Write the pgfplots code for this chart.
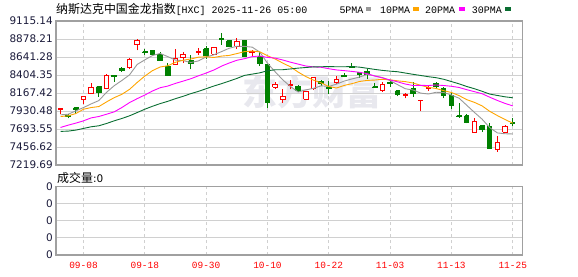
\documentclass[border=0pt]{standalone}
\usepackage{fontspec}
\setmainfont{DejaVu Sans}
\newfontfamily\cjk{Noto Sans CJK SC}
\newfontfamily\mono{Liberation Mono}
\usepackage{pgfplots}
\usepackage{pgfplotstable}
\pgfplotsset{compat=1.18}

\definecolor{ma5}{HTML}{999999}
\definecolor{ma10}{HTML}{FFA500}
\definecolor{ma20}{HTML}{FF00FF}
\definecolor{ma30}{HTML}{0A6E32}
\definecolor{upc}{HTML}{FF0000}
\definecolor{downc}{HTML}{008000}
\definecolor{gridc}{HTML}{D0D0D0}
\definecolor{framec}{HTML}{A0A0A0}
\definecolor{lab}{HTML}{1A1A3A}
\definecolor{wm}{HTML}{E8E8EE}

\pgfplotstableread{
i O H L C
0 7949 7976 7897 7958
1 7875 7897 7832 7858
2 7971 7971 7897 7954
3 8085 8119 8019 8119
4 8159 8294 8159 8237
5 8250 8250 8115 8172
6 8224 8412 8215 8399
7 8399 8403 8316 8390
8 8490 8508 8447 8464
9 8499 8630 8486 8608
10 8800 8878 8730 8856
11 8708 8747 8673 8699
12 8726 8726 8678 8678
13 8678 8708 8590 8599
14 8521 8564 8390 8399
15 8538 8747 8538 8625
16 8630 8708 8560 8669
17 8595 8669 8477 8551
18 8699 8756 8665 8708
19 8747 8791 8617 8660
20 8678 8774 8678 8765
21 8883 8957 8804 8874
22 8856 8856 8774 8774
23 8782 8891 8752 8839
24 8861 8870 8643 8651
25 8699 8739 8660 8713
26 8643 8708 8521 8551
27 8542 8542 7976 8041
28 8246 8316 8224 8276
29 8076 8215 8041 8119
30 8272 8338 8215 8281
31 8255 8268 8181 8194
32 8085 8181 8072 8181
33 8228 8368 8207 8368
34 8324 8333 8259 8290
35 8242 8320 8150 8233
36 8303 8390 8281 8346
37 8399 8433 8377 8381
38 8516 8564 8508 8508
39 8433 8442 8368 8412
40 8455 8486 8355 8412
41 8250 8303 8237 8242
42 8202 8311 8181 8276
43 8307 8320 8246 8298
44 8194 8194 8124 8146
45 8141 8172 8098 8150
46 8224 8311 8115 8163
47 8067 8072 7932 8072
48 8224 8268 8194 8246
49 8294 8311 8215 8259
50 8228 8246 8098 8128
51 8128 8163 7954 7997
52 7871 8032 7840 7862
53 7866 7888 7766 7779
54 7648 7836 7648 7788
55 7736 7736 7657 7683
56 7727 7771 7439 7439
57 7430 7605 7396 7518
58 7648 7744 7648 7727
59 7775 7832 7727 7766
}\candles

\pgfplotstableread{
i m5 m10 m20 m30
0 7880 7858 7714 7662
1 7888 7867 7744 7666
2 7932 7897 7771 7679
3 7976 7954 7801 7701
4 8024 7976 7840 7723
5 8068 7989 7858 7736
6 8176 8050 7888 7766
7 8263 8106 7919 7801
8 8332 8150 7976 7832
9 8406 8215 8041 7867
10 8543 8306 8093 7910
11 8604 8390 8141 7954
12 8661 8462 8194 7993
13 8688 8510 8237 8028
14 8646 8526 8259 8058
15 8600 8572 8294 8093
16 8594 8599 8324 8124
17 8569 8615 8355 8159
18 8590 8639 8394 8189
19 8642 8644 8430 8224
20 8670 8635 8470 8259
21 8712 8653 8521 8290
22 8756 8662 8562 8324
23 8783 8686 8598 8359
24 8781 8712 8619 8399
25 8771 8720 8646 8416
26 8706 8709 8654 8433
27 8559 8658 8636 8460
28 8447 8615 8627 8473
29 8340 8561 8602 8474
30 8253 8512 8573 8484
31 8181 8443 8548 8495
32 8209 8384 8523 8503
33 8228 8337 8511 8511
34 8262 8301 8506 8513
35 8254 8253 8487 8515
36 8284 8233 8471 8513
37 8324 8267 8462 8513
38 8352 8290 8452 8515
39 8377 8319 8440 8508
40 8412 8333 8422 8493
41 8392 8338 8391 8478
42 8371 8348 8366 8465
43 8330 8341 8339 8455
44 8276 8327 8314 8447
45 8223 8317 8285 8430
46 8207 8299 8266 8413
47 8166 8268 8268 8398
48 8154 8242 8266 8382
49 8177 8227 8273 8369
50 8174 8198 8266 8348
51 8140 8174 8256 8318
52 8099 8133 8240 8288
53 8006 8080 8211 8253
54 7912 8044 8185 8224
55 7823 7998 8158 8190
56 7711 7926 8112 8153
57 7642 7870 8069 8135
58 7631 7819 8030 8117
59 7628 7770 7998 8105
}\mas

\pgfplotsset{
  kstyle/.style={
    scale only axis,
    anchor=south west,
    width=466.7bp,
    xmin=-0.59, xmax=60.3,
    xtick={3,11,19,27,35,43,51,59},
    major tick length=0pt,
    axis line style={draw=framec, line width=1.2bp},
    xmajorgrids, ymajorgrids,
    x grid style={draw=gridc, dash pattern=on 3bp off 3bp, line width=0.9bp},
    y grid style={draw=gridc, line width=0.9bp},
    yticklabel style={font=\fontsize{10.5}{12}\selectfont, text=lab, inner sep=0pt, anchor=east, xshift=-3bp},
  }
}

\begin{document}
\begin{tikzpicture}[x=1bp,y=1bp]
\useasboundingbox (0,0) rectangle (578,276);
% watermark
\node[text=wm, inner sep=0, font=\cjk\bfseries\fontsize{35}{35}\selectfont] at (312,184) {东方财富};
% title
\node[anchor=base west, inner sep=0] at (56,263) {\cjk\fontsize{12}{12}\selectfont 纳斯达克中国金龙指数\mono\fontsize{10}{10}\selectfont[HXC] 2025-11-26 05:00};
% legend
\node[anchor=base west, inner sep=0, font=\mono\fontsize{10}{10}\selectfont] at (339.3,263) {5PMA};
\fill[ma5] (366,265.3) rectangle (371.3,268.7);
\node[anchor=base west, inner sep=0, font=\mono\fontsize{10}{10}\selectfont] at (380,263) {10PMA};
\fill[ma10] (413.3,265.3) rectangle (418.7,268.7);
\node[anchor=base west, inner sep=0, font=\mono\fontsize{10}{10}\selectfont] at (425,263) {20PMA};
\fill[ma20] (459.3,265.3) rectangle (465,268.7);
\node[anchor=base west, inner sep=0, font=\mono\fontsize{10}{10}\selectfont] at (471.7,263) {30PMA};
\fill[ma30] (505,265.3) rectangle (510.7,268.7);
% volume caption
\node[anchor=base west, inner sep=0] at (57,94) {\cjk\fontsize{12}{12}\selectfont 成交量\normalfont\fontsize{10.5}{12}\selectfont:0};

\begin{axis}[kstyle,
  at={(56bp,111bp)}, height=144bp,
  ymin=7219.69, ymax=9115.14,
  ytick={7219.69,7456.62,7693.55,7930.48,8167.42,8404.35,8641.28,8878.21,9115.14},
  yticklabels={7219.69,7456.62,7693.55,7930.48,8167.42,8404.35,8641.28,8878.21,9115.14},
  xticklabels={},
]
\pgfplotstablegetrowsof{\candles}
\pgfmathtruncatemacro{\nrows}{\pgfplotsretval-1}
\pgfplotsforeachungrouped \r in {0,...,\nrows}{%
  \pgfplotstablegetelem{\r}{O}\of\candles \let\cO\pgfplotsretval
  \pgfplotstablegetelem{\r}{H}\of\candles \let\cH\pgfplotsretval
  \pgfplotstablegetelem{\r}{L}\of\candles \let\cL\pgfplotsretval
  \pgfplotstablegetelem{\r}{C}\of\candles \let\cC\pgfplotsretval
  \pgfmathsetmacro{\xa}{\r-0.29}%
  \pgfmathsetmacro{\xb}{\r+0.29}%
  \ifdim\cC pt>\cO pt
    \def\ccol{upc}\def\cfill{white}%
  \else
    \def\ccol{downc}\def\cfill{downc}%
  \fi
  \edef\doplot{%
    \noexpand\addplot[draw=\ccol, line width=1bp, forget plot] coordinates {(\r,\cL) (\r,\cH)};
    \noexpand\addplot[draw=\ccol, fill=\cfill, line width=1bp, forget plot] coordinates {(\xa,\cO) (\xb,\cO) (\xb,\cC) (\xa,\cC) (\xa,\cO)};
  }%
  \doplot
}
\addplot[ma5, line width=0.9bp] table[x=i, y=m5] {\mas};
\addplot[ma10, line width=0.9bp] table[x=i, y=m10] {\mas};
\addplot[ma20, line width=0.9bp] table[x=i, y=m20] {\mas};
\addplot[ma30, line width=0.9bp] table[x=i, y=m30] {\mas};
\end{axis}

\begin{axis}[kstyle,
  at={(56bp,21bp)}, height=68.3bp,
  ymin=0, ymax=4,
  ytick={0,1,2,3,4},
  yticklabels={0,0,0,0,0},
  xticklabels={09-08,09-18,09-30,10-10,10-22,11-03,11-13,11-25},
  xticklabel style={font=\mono\fontsize{9.5}{10}\selectfont, text=upc, inner sep=0pt, anchor=north, yshift=-7bp},
]
\addplot[draw=none] coordinates {(0,0)};
\end{axis}
\end{tikzpicture}
\end{document}
